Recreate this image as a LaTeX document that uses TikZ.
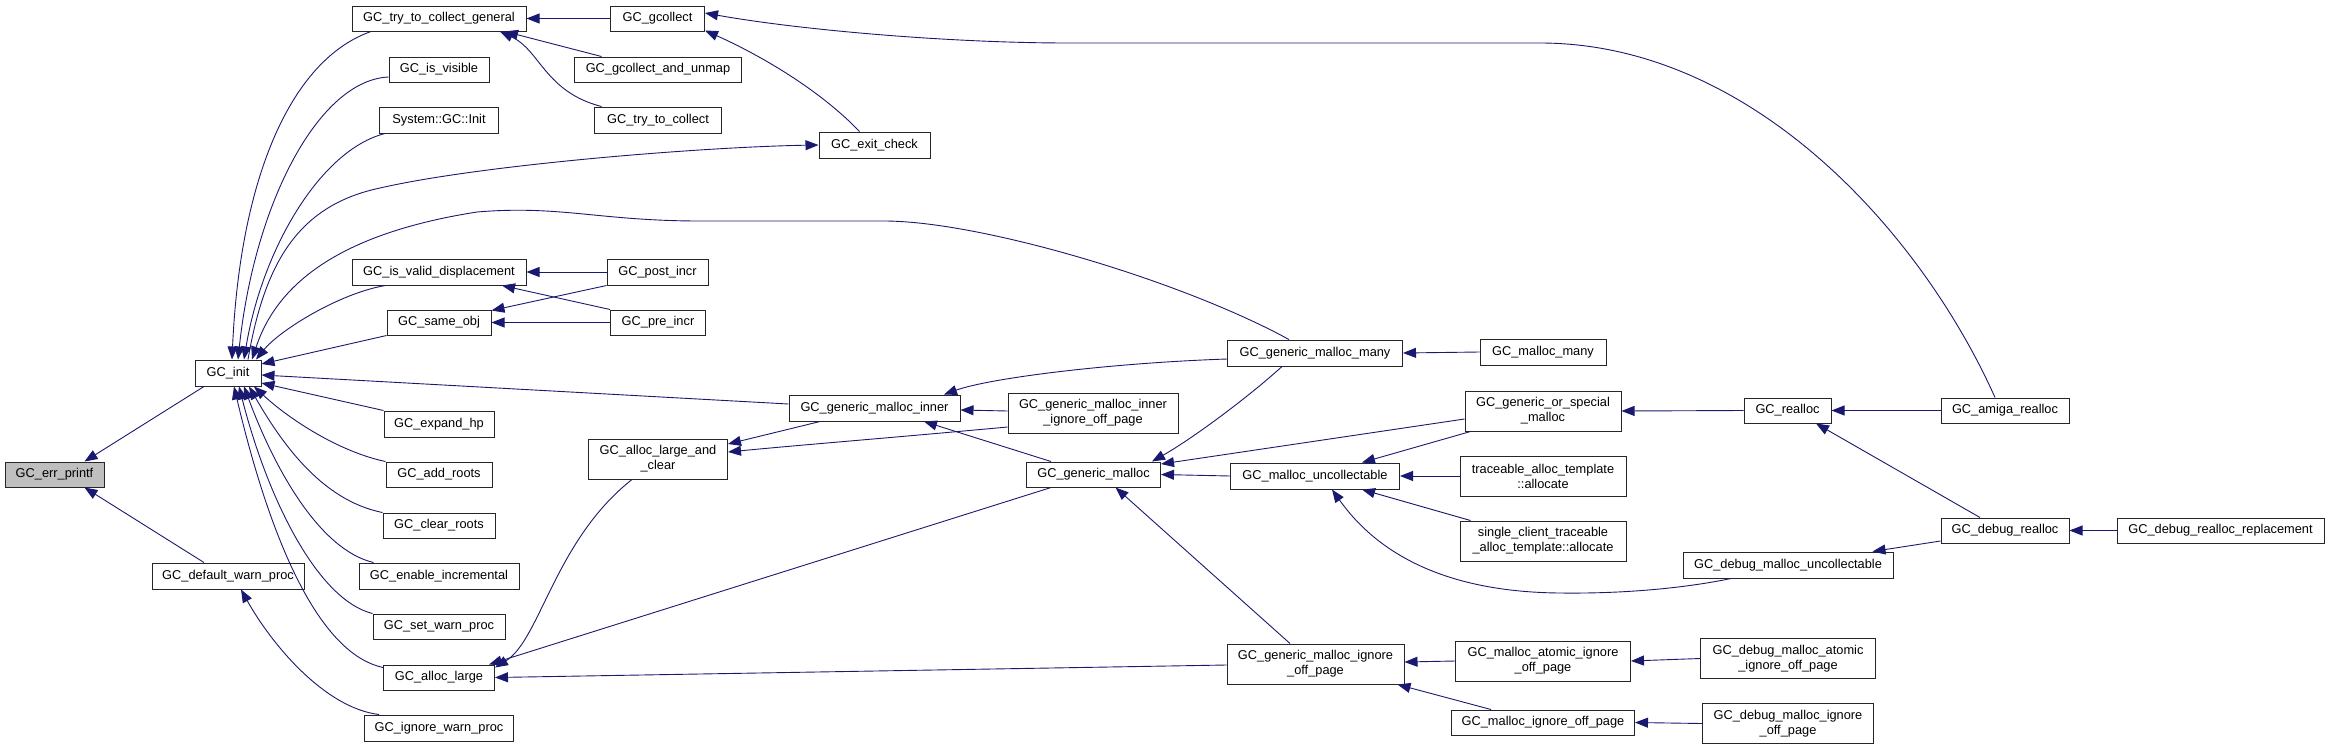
\documentclass[tikz,border=0pt]{standalone}
\usepackage{fontspec}
\setmainfont{Liberation Sans}
\usepackage{tikz}
\usetikzlibrary{arrows.meta}
\definecolor{callblue}{HTML}{191970}
\definecolor{hlgray}{HTML}{BFBFBF}
\newcommand{\fnfont}{\fontsize{12.8pt}{15pt}\selectfont}

\begin{document}
\begin{tikzpicture}[
  x=1pt, y=-1pt,
  box/.style={draw=black!85, fill=white, line width=1pt, inner sep=0pt, align=center, font=\fnfont, minimum height=25pt},
  box2/.style={box, minimum height=40pt},
  arr/.style={{Triangle[length=13pt,width=10pt]}-, draw=callblue, line width=0.9pt}
]
\useasboundingbox (0,0) rectangle (2329,750);

\node[box, minimum width=99, fill=hlgray] (errprintf) at (54.5,474.5) {GC\_err\_printf};
\node[box, minimum width=66, minimum height=26] (init) at (228,373) {GC\_init};
\node[box, minimum width=152, minimum height=26] (defaultwarn) at (228,576) {GC\_default\_warn\_proc};

\node[box, minimum width=174] (trycollectgen) at (439,18.5) {GC\_try\_to\_collect\_general};
\node[box, minimum width=100] (isvisible) at (439,69.5) {GC\_is\_visible};
\node[box, minimum width=119, minimum height=26] (sysinit) at (439,120) {System::GC::Init};
\node[box, minimum width=174, minimum height=26] (isvaliddisp) at (439,272) {GC\_is\_valid\_displacement};
\node[box, minimum width=104] (sameobj) at (439,322.5) {GC\_same\_obj};
\node[box, minimum width=110, minimum height=26] (expandhp) at (439,424) {GC\_expand\_hp};
\node[box, minimum width=106] (addroots) at (439,474.5) {GC\_add\_roots};
\node[box, minimum width=112] (clearroots) at (439,525.5) {GC\_clear\_roots};
\node[box, minimum width=160, minimum height=26] (enableinc) at (439,576) {GC\_enable\_incremental};
\node[box, minimum width=132] (setwarn) at (439,626.5) {GC\_set\_warn\_proc};
\node[box, minimum width=111] (alloclarge) at (439,677.5) {GC\_alloc\_large};
\node[box, minimum width=149, minimum height=26] (ignorewarn) at (439,728) {GC\_ignore\_warn\_proc};

\node[box, minimum width=94] (gcollect) at (657.5,18.5) {GC\_gcollect};
\node[box, minimum width=167] (gcunmap) at (658,69.5) {GC\_gcollect\_and\_unmap};
\node[box, minimum width=127, minimum height=26] (trycollect) at (658,120) {GC\_try\_to\_collect};
\node[box, minimum width=101, minimum height=26] (postincr) at (657.5,272) {GC\_post\_incr};
\node[box, minimum width=95] (preincr) at (658,322.5) {GC\_pre\_incr};
\node[box2, minimum width=139] (alloclargeclear) at (658,459) {GC\_alloc\_large\_and\\\_clear};

\node[box, minimum width=111, minimum height=26] (exitcheck) at (874.5,145) {GC\_exit\_check};
\node[box, minimum width=171, minimum height=26] (gminner) at (874.5,408) {GC\_generic\_malloc\_inner};
\node[box2, minimum width=170] (gminneriop) at (1093,413) {GC\_generic\_malloc\_inner\\\_ignore\_off\_page};
\node[box, minimum width=134] (gmalloc) at (1093.5,474.5) {GC\_generic\_malloc};

\node[box, minimum width=175, minimum height=26] (gmmany) at (1315,353) {GC\_generic\_malloc\_many};
\node[box, minimum width=169, minimum height=26] (uncollectable) at (1315,476) {GC\_malloc\_uncollectable};
\node[box2, minimum width=177] (gmiop) at (1315.5,664) {GC\_generic\_malloc\_ignore\\\_off\_page};

\node[box, minimum width=126, minimum height=26] (mallocmany) at (1543,352) {GC\_malloc\_many};
\node[box2, minimum width=156] (orspecial) at (1543,411) {GC\_generic\_or\_special\\\_malloc};
\node[box2, minimum width=166] (traceable) at (1543,476) {traceable\_alloc\_template\\::allocate};
\node[box2, minimum width=166] (singleclient) at (1543,541) {single\_client\_traceable\\\_alloc\_template::allocate};
\node[box2, minimum width=175] (atomiciop) at (1543,661) {GC\_malloc\_atomic\_ignore\\\_off\_page};
\node[box, minimum width=183] (mallociop) at (1543,722.5) {GC\_malloc\_ignore\_off\_page};

\node[box, minimum width=87] (realloc) at (1787.5,410.5) {GC\_realloc};
\node[box, minimum width=210, minimum height=26] (dbguncoll) at (1788,565) {GC\_debug\_malloc\_uncollectable};
\node[box2, minimum width=175] (dbgatomiciop) at (1788,658.5) {GC\_debug\_malloc\_atomic\\\_ignore\_off\_page};
\node[box2, minimum width=171] (dbgmallociop) at (1788,723.5) {GC\_debug\_malloc\_ignore\\\_off\_page};

\node[box, minimum width=128] (amiga) at (2005,410.5) {GC\_amiga\_realloc};
\node[box, minimum width=128] (dbgrealloc) at (2005,530.5) {GC\_debug\_realloc};
\node[box, minimum width=207] (dbgreplace) at (2220.5,530.5) {GC\_debug\_realloc\_replacement};

\draw[arr] ([xshift=30]errprintf.north) -- ([xshift=-24]init.south);
\draw[arr] ([xshift=30]errprintf.south) -- ([xshift=-24]defaultwarn.north);
\draw[arr] ([xshift=13]defaultwarn.south) .. controls (272,645) and (325,708) .. ([xshift=-60]ignorewarn.north);

\draw[arr] ([xshift=4]init.north) .. controls (240,180) and (290,60) .. ([xshift=-68]trycollectgen.south);
\draw[arr] ([xshift=10]init.north) .. controls (255,200) and (320,80) .. ([yshift=-7.5]isvisible.west);
\draw[arr] ([xshift=16]init.north) .. controls (262,250) and (320,150) .. ([xshift=6]sysinit.south west);
\draw[arr] (exitcheck.west) .. controls (700,147) and (480,165) .. (380,188) .. controls (300,205) and (265,260) .. ([xshift=20]init.north);
\draw[arr] ([xshift=24]init.north) .. controls (275,290) and (330,235) .. (477,212) .. controls (560,205) and (600,221) .. (700,221) -- (884,221) .. controls (980,221) and (1180,280) .. ([xshift=-26]gmmany.north);
\draw[arr] ([xshift=28]init.north) .. controls (280,330) and (340,293) .. ([xshift=-53.5]isvaliddisp.south);
\draw[arr] ([yshift=9]init.east) -- (sameobj.south west);
\draw[arr] ([yshift=-2]init.east) -- ([yshift=4]gminner.west);
\draw[arr] ([yshift=-10]init.east) -- (expandhp.north west);
\draw[arr] ([xshift=26]init.south) .. controls (290,420) and (340,452) .. (addroots.north west);
\draw[arr] ([xshift=21]init.south) .. controls (280,440) and (320,500) .. (clearroots.north west);
\draw[arr] ([xshift=16]init.south) .. controls (275,470) and (320,550) .. ([xshift=15]enableinc.north west);
\draw[arr] ([xshift=11]init.south) .. controls (268,500) and (318,600) .. (setwarn.north west);
\draw[arr] ([xshift=6]init.south) .. controls (275,560) and (325,655) .. ([yshift=-3]alloclarge.north west);

\draw[arr] (trycollectgen.east) -- (gcollect.west);
\draw[arr] ([xshift=66]trycollectgen.south) -- ([xshift=27.5]gcunmap.north west);
\draw[arr] ([xshift=61]trycollectgen.south) .. controls (540,50) and (545,92) .. ([xshift=7.5]trycollect.north west);
\draw[arr] (isvaliddisp.east) -- (postincr.west);
\draw[arr] ([xshift=63]isvaliddisp.south) -- (preincr.north west);
\draw[arr] ([yshift=-1]sameobj.north east) -- (postincr.south west);
\draw[arr] (sameobj.east) -- (preincr.west);

\draw[arr] ([yshift=1]gcollect.south east) .. controls (760,55) and (820,90) .. ([xshift=-15]exitcheck.north);
\draw[arr] ([yshift=5.5]gcollect.east) .. controls (800,30) and (950,43) .. (1068,43) -- (1540,43) .. controls (1750,43) and (1920,230) .. ([xshift=-10]amiga.north);

\draw[arr] ([yshift=-3]alloclarge.north east) .. controls (540,640) and (555,540) .. ([xshift=-26]alloclargeclear.south);
\draw[arr] ([xshift=-6]alloclarge.north east) -- ([xshift=-42.5]gmalloc.south);
\draw[arr] (alloclarge.east) -- ([yshift=-1]gmiop.west);
\draw[arr] ([yshift=15]alloclargeclear.east) -- ([xshift=-54.5]gminner.south);
\draw[arr] ([yshift=7]alloclargeclear.east) .. controls (800,445) and (900,437) .. ([yshift=-14]gminneriop.west);

\draw[arr] ([yshift=-2]gminner.east) -- ([yshift=2]gminneriop.west);
\draw[arr] ([xshift=49.5]gminner.south) -- ([xshift=-42.5]gmalloc.north);
\draw[arr] ([xshift=69.5]gminner.north) .. controls (990,378) and (1110,363) .. ([yshift=-6]gmmany.west);
\draw[arr] ([xshift=58.5]gmalloc.north) .. controls (1190,440) and (1245,400) .. ([xshift=-33]gmmany.south);
\draw[arr] ([yshift=10.5]gmalloc.east) -- ([yshift=-8]orspecial.west);
\draw[arr] (gmalloc.east) -- (uncollectable.west);
\draw[arr] ([xshift=22]gmalloc.south) -- ([xshift=-25.5]gmiop.north);

\draw[arr] (gmmany.east) -- (mallocmany.west);
\draw[arr] ([xshift=47]uncollectable.north) -- ([xshift=6]orspecial.south west);
\draw[arr] (uncollectable.east) -- (traceable.west);
\draw[arr] ([xshift=47]uncollectable.south) -- ([xshift=11]singleclient.north west);
\draw[arr] ([xshift=17]uncollectable.south) .. controls (1375,550) and (1440,592) .. (1560,593) .. controls (1640,594) and (1700,585) .. ([xshift=-57]dbguncoll.south);
\draw[arr] ([yshift=2]gmiop.east) -- (atomiciop.west);
\draw[arr] ([xshift=-7]gmiop.south east) -- ([xshift=40]mallociop.north west);

\draw[arr] (orspecial.east) -- (realloc.west);
\draw[arr] (realloc.east) -- (amiga.west);
\draw[arr] ([xshift=28.5]realloc.south) -- ([xshift=-25]dbgrealloc.north);
\draw[arr] ([xshift=-21]dbguncoll.north east) -- ([yshift=-10.5]dbgrealloc.west);
\draw[arr] (dbgrealloc.east) -- (dbgreplace.west);
\draw[arr] (atomiciop.east) -- (dbgatomiciop.west);
\draw[arr] (mallociop.east) -- (dbgmallociop.west);
\end{tikzpicture}
\end{document}
